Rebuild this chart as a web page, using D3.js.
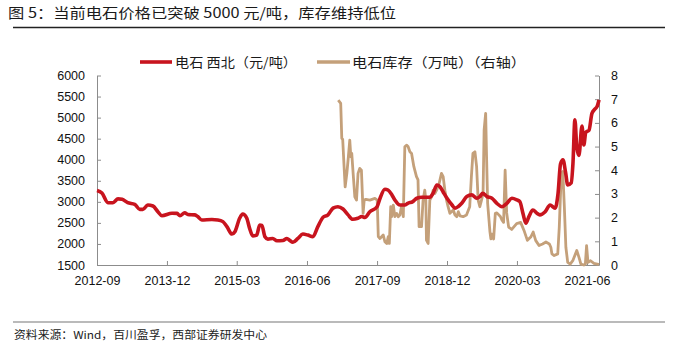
<!DOCTYPE html>
<html><head><meta charset="utf-8">
<script src="https://cdn.jsdelivr.net/npm/d3@7"></script>
<style>
html,body{margin:0;padding:0;background:#fff;}
svg{display:block;}
</style></head>
<body>
<svg id="chart" width="676" height="343"></svg>
<script>
// ---------- data ----------
const titleText = "图 5：当前电石价格已突破 5000 元/吨，库存维持低位";
const sourceText = "资料来源：Wind，百川盈孚，西部证券研发中心";
const seriesNames = ["电石 西北（元/吨）", "电石库存（万吨）（右轴）"];

const tickDates = ["2012-09-01","2013-12-01","2015-03-01","2016-06-01","2017-09-01","2018-12-01","2020-03-01","2021-06-01"];
const tickLabels = ["2012-09","2013-12","2015-03","2016-06","2017-09","2018-12","2020-03","2021-06"];
const leftTicks = [1500,2000,2500,3000,3500,4000,4500,5000,5500,6000];
const rightTicks = [0,1,2,3,4,5,6,7,8];

const priceDates = ["2012-09-01","2012-10-03","2012-11-11","2012-12-14","2013-01-16","2013-02-12","2013-03-20","2013-05-05","2013-06-07","2013-06-27","2013-07-29","2013-09-01","2013-10-03","2013-10-29","2014-01-03","2014-02-05","2014-02-24","2014-03-27","2014-04-16","2014-06-01","2014-06-20","2014-07-16","2014-09-20","2014-10-29","2014-12-01","2014-12-27","2015-01-29","2015-02-17","2015-03-20","2015-04-09","2015-05-05","2015-05-24","2015-06-14","2015-07-09","2015-07-29","2015-08-12","2015-09-01","2015-09-20","2015-10-22","2015-11-18","2015-12-27","2016-01-22","2016-02-11","2016-03-01","2016-04-03","2016-05-05","2016-06-07","2016-07-09","2016-08-11","2016-09-14","2016-10-16","2016-11-18","2016-12-20","2017-01-22","2017-02-24","2017-03-26","2017-04-29","2017-05-24","2017-06-14","2017-07-16","2017-09-01","2017-09-20","2017-10-22","2017-11-11","2017-12-07","2017-12-26","2018-01-29","2018-03-01","2018-03-20","2018-04-22","2018-05-18","2018-06-20","2018-08-11","2018-09-01","2018-09-26","2018-10-16","2018-11-05","2018-12-01","2019-01-03","2019-01-22","2019-02-11","2019-03-07","2019-04-09","2019-05-11","2019-06-13","2019-07-03","2019-07-22","2019-08-18","2019-09-20","2019-10-22","2019-11-24","2019-12-26","2020-01-28","2020-03-01","2020-03-20","2020-04-09","2020-04-28","2020-05-18","2020-06-13","2020-07-09","2020-07-28","2020-09-01","2020-10-03","2020-11-05","2020-11-24","2020-12-10","2020-12-26","2021-01-12","2021-01-26","2021-02-18","2021-03-01","2021-03-14","2021-03-26","2021-04-09","2021-04-29","2021-05-11","2021-05-24","2021-06-14","2021-07-03","2021-07-22","2021-08-05","2021-08-18"];
const priceValues = [3270,3210,2980,2980,3070,3060,2980,2940,2820,2820,2925,2900,2765,2670,2730,2725,2670,2740,2700,2690,2650,2570,2580,2570,2530,2410,2235,2290,2610,2710,2615,2370,2190,2210,2450,2440,2170,2115,2130,2075,2080,2130,2080,2040,2130,2235,2210,2170,2410,2635,2690,2850,2885,2830,2690,2585,2610,2650,2630,2765,2885,3080,3300,3280,3165,3045,2925,2925,2965,3005,3085,3110,3110,3200,3400,3360,3240,3085,2925,2850,2885,2965,3125,3165,3085,3125,3200,3125,3085,2965,2885,2965,3085,3045,3005,2730,2490,2650,2805,2730,2690,2765,2925,2850,3200,3900,4000,3700,3400,3450,3900,4950,4300,4100,4800,4350,4650,4700,5100,5200,5260,5420];

const stockDates = ["2016-12-22","2017-01-07","2017-01-14","2017-01-20","2017-01-29","2017-02-05","2017-02-16","2017-02-26","2017-03-07","2017-03-14","2017-03-20","2017-03-29","2017-04-09","2017-04-20","2017-04-30","2017-05-11","2017-05-22","2017-06-02","2017-06-09","2017-06-20","2017-07-16","2017-08-18","2017-09-02","2017-09-09","2017-09-20","2017-10-11","2017-10-22","2017-11-03","2017-11-13","2017-11-20","2017-11-29","2017-12-05","2017-12-16","2017-12-26","2018-01-07","2018-01-17","2018-01-28","2018-02-09","2018-02-19","2018-03-01","2018-03-12","2018-03-22","2018-04-03","2018-04-14","2018-04-29","2018-05-16","2018-05-26","2018-06-02","2018-06-18","2018-06-28","2018-07-09","2018-07-16","2018-07-20","2018-07-31","2018-08-11","2018-08-22","2018-09-02","2018-09-13","2018-09-24","2018-10-11","2018-10-26","2018-11-06","2018-11-17","2018-11-28","2018-12-08","2018-12-20","2019-01-11","2019-01-22","2019-02-03","2019-02-13","2019-02-24","2019-03-16","2019-04-07","2019-04-28","2019-05-09","2019-05-19","2019-06-01","2019-06-12","2019-06-22","2019-07-03","2019-07-14","2019-07-24","2019-07-31","2019-08-10","2019-08-16","2019-08-23","2019-09-07","2019-09-13","2019-09-20","2019-10-01","2019-10-12","2019-10-22","2019-11-14","2019-11-24","2019-12-05","2019-12-15","2019-12-25","2020-01-07","2020-01-27","2020-02-28","2020-03-25","2020-04-16","2020-05-08","2020-05-30","2020-06-15","2020-07-01","2020-07-23","2020-08-15","2020-09-06","2020-09-28","2020-10-08","2020-10-15","2020-10-30","2020-11-22","2020-12-02","2020-12-15","2020-12-25","2021-01-04","2021-01-14","2021-01-26","2021-02-11","2021-02-28","2021-03-26","2021-04-09","2021-04-22","2021-05-11","2021-05-21","2021-05-29","2021-06-07","2021-06-24","2021-07-16","2021-08-07","2021-08-18"];
const stockValues = [6.96,6.82,5.35,5.3,4.15,3.3,3.87,4.57,5.27,4.57,4.71,3.87,2.88,2.74,3.87,4.08,4.0,2.18,2.74,2.77,2.74,2.81,2.74,1.2,1.12,1.27,0.98,0.91,1.2,0.91,2.46,2.04,2.53,2.04,2.18,2.04,2.11,2.53,2.04,4.99,5.06,5.0,4.78,4.71,4.15,3.73,3.59,1.62,1.62,2.74,3.16,2.74,1.05,0.91,2.74,2.88,3.16,3.02,3.16,3.45,3.87,3.73,3.16,2.74,2.46,2.18,2.32,2.11,2.04,2.25,2.07,2.04,2.11,2.46,3.73,4.71,4.78,4.15,2.74,2.46,2.74,3.02,5.7,6.4,4.57,2.6,1.4,1.1,1.3,1.1,2.18,2.2,2.05,1.9,1.8,4.0,2.2,1.6,1.5,1.75,1.8,1.46,1.04,1.18,1.39,1.04,0.82,0.89,0.97,0.89,0.75,0.47,0.4,0.47,1.6,3.88,3.95,2.46,0.75,0.11,0.04,0.18,0.61,0.33,0.04,0,0.04,0.82,0.11,0.18,0.07,0.04,0.02];

// ---------- drawing ----------
const parse = d3.timeParse("%Y-%m-%d");
const svg = d3.select("#chart");
const FONT = "'Liberation Sans', Arial, sans-serif";
const CJK = "'Noto Sans CJK SC', sans-serif";
const RED = "#c8141e", TAN = "#c4a07a", AXIS = "#8c8c8c";

const x = d3.scaleTime().domain([parse("2012-09-01"), parse("2021-08-18")]).range([97, 599]);
const yL = d3.scaleLinear().domain([1500, 6000]).range([265, 75.5]);
const yR = d3.scaleLinear().domain([0, 8]).range([265, 75.5]);

// title
svg.append("text").attr("x", 8).attr("y", 18).attr("font-family", CJK).attr("font-size", 14)
  .attr("fill", "#1a1a1a").attr("textLength", 388).attr("lengthAdjust", "spacingAndGlyphs").text(titleText);
svg.append("line").attr("x1", 13).attr("x2", 665).attr("y1", 27.5).attr("y2", 27.5)
  .attr("stroke", "#222").attr("stroke-width", 1.5);

// footer
svg.append("line").attr("x1", 13).attr("x2", 665).attr("y1", 322).attr("y2", 322)
  .attr("stroke", "#777").attr("stroke-width", 1.2);
svg.append("text").attr("x", 14).attr("y", 339).attr("font-family", CJK).attr("font-size", 11)
  .attr("fill", "#222").attr("textLength", 253).attr("lengthAdjust", "spacingAndGlyphs").text(sourceText);

// axes
function styleAxis(g) {
  g.select(".domain").attr("stroke", AXIS).attr("stroke-width", 1);
  g.selectAll(".tick line").attr("stroke", AXIS);
  g.selectAll(".tick text").attr("font-family", FONT).attr("font-size", 12.5).attr("fill", "#111");
}
svg.append("g").attr("transform", "translate(97,0)")
  .call(d3.axisLeft(yL).tickValues(leftTicks).tickFormat(d3.format("d")).tickSizeInner(-4).tickSizeOuter(0).tickPadding(12))
  .call(styleAxis);
svg.append("g").attr("transform", "translate(599,0)")
  .call(d3.axisRight(yR).tickValues(rightTicks).tickFormat(d3.format("d")).tickSizeInner(-4).tickSizeOuter(0).tickPadding(12))
  .call(styleAxis);
svg.append("g").attr("transform", "translate(0,265)")
  .call(d3.axisBottom(x).tickValues(tickDates.map(parse)).tickFormat((d, i) => tickLabels[i]).tickSizeInner(-4).tickSizeOuter(0).tickPadding(11))
  .call(styleAxis);

// lines
const priceData = priceDates.map((d, i) => ({ date: parse(d), v: priceValues[i] }));
const stockData = stockDates.map((d, i) => ({ date: parse(d), v: stockValues[i] }));

svg.append("path").datum(stockData)
  .attr("fill", "none").attr("stroke", TAN).attr("stroke-width", 2.8).attr("stroke-linejoin", "round")
  .attr("d", d3.line().x(d => x(d.date)).y(d => yR(d.v)));
svg.append("path").datum(priceData)
  .attr("fill", "none").attr("stroke", RED).attr("stroke-width", 3.6).attr("stroke-linejoin", "round")
  .attr("d", d3.line().x(d => x(d.date)).y(d => yL(d.v)).curve(d3.curveMonotoneX));

// legend
const legend = [{ name: seriesNames[0], color: RED, x1: 140, x2: 172, tx: 175, w: 122, sw: 3.6 },
                { name: seriesNames[1], color: TAN, x1: 317, x2: 350, tx: 352, w: 174, sw: 3.6 }];
legend.forEach(l => {
  svg.append("line").attr("x1", l.x1).attr("x2", l.x2).attr("y1", 62).attr("y2", 62)
    .attr("stroke", l.color).attr("stroke-width", l.sw);
  svg.append("text").attr("x", l.tx).attr("y", 66.5).attr("font-family", CJK).attr("font-size", 13)
    .attr("fill", "#1a1a1a").attr("textLength", l.w).attr("lengthAdjust", "spacingAndGlyphs").text(l.name);
});
</script>
</body></html>
